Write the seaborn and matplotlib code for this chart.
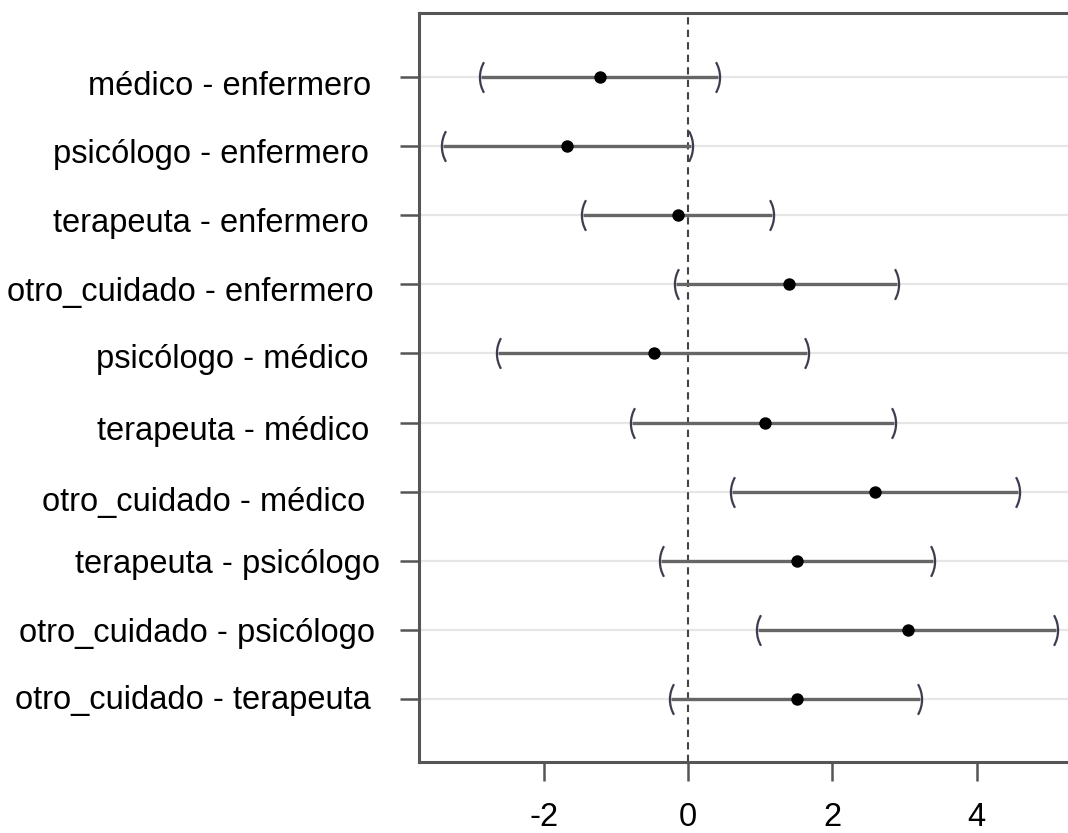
import matplotlib
matplotlib.use("Agg")
import matplotlib.pyplot as plt
from matplotlib.path import Path
from matplotlib.transforms import ScaledTranslation
import seaborn as sns
import pandas as pd

comparisons = [
    "médico - enfermero",
    "psicólogo - enfermero",
    "terapeuta - enfermero",
    "otro_cuidado - enfermero",
    "psicólogo - médico",
    "terapeuta - médico",
    "otro_cuidado - médico",
    "terapeuta - psicólogo",
    "otro_cuidado - psicólogo",
    "otro_cuidado - terapeuta",
]
diff = [-1.22, -1.67, -0.14, 1.40, -0.47, 1.06, 2.59, 1.51, 3.05, 1.51]
lwr = [-2.87, -3.40, -1.46, -0.16, -2.63, -0.77, 0.61, -0.38, 0.97, -0.23]
upr = [0.41, 0.04, 1.17, 2.90, 1.65, 2.86, 4.57, 3.40, 5.10, 3.22]
xticks = [-2, 0, 2, 4]

# per-label placement nudges (pixels) to mimic the reference's label layout
label_dx = [0.7, -2, -2, 2.7, -2.3, -1.7, -6, 9.3, 4, 0]
label_baseline = [18.3, 16.7, 16.3, 16.3, 14.3, 17.7, 19.3, 12.3, 11.7, 10]

df = pd.DataFrame({"comp": comparisons, "diff": diff, "lwr": lwr, "upr": upr})
df["pos"] = range(1, len(df) + 1)

sns.set_theme(style="white")
plt.rcParams["font.family"] = ["Liberation Sans", "DejaVu Sans"]


def paren_marker(left_side=True):
    arc = Path.arc(150, 210) if left_side else Path.arc(-30, 30)
    v = arc.vertices.copy()
    v[:, 0] -= v[:, 0].mean()
    return Path(v, arc.codes)


W, H = 1068, 833
fig = plt.figure(figsize=(W / 100, H / 100), dpi=100)
left, right, top, bottom = 419, 1068, 13, 762
ax = fig.add_axes([left / W, (H - bottom) / H, (right - left) / W, (bottom - top) / H])

spine_c = "#555555"
for p in df["pos"]:
    ax.axhline(p, color="#e6e6e6", lw=1.6, zorder=0)
ax.axvline(0, color="#444444", lw=1.5, ls=(0, (3.5, 2.5)), zorder=1)

ax.hlines(df["pos"], df["lwr"], df["upr"], color="#666666", lw=2.4, zorder=2)
ax.plot(df["lwr"], df["pos"], ls="none", marker=paren_marker(True), markersize=22,
        markerfacecolor="none", markeredgecolor="#3d3d50", markeredgewidth=1.6, zorder=3)
ax.plot(df["upr"], df["pos"], ls="none", marker=paren_marker(False), markersize=22,
        markerfacecolor="none", markeredgecolor="#3d3d50", markeredgewidth=1.6, zorder=3)
sns.scatterplot(data=df, x="diff", y="pos", ax=ax, color="black", s=80,
                edgecolor="black", linewidth=0, zorder=4)

ax.set_xlim((left - 688) / 72.2, (right - 688) / 72.2)
ax.set_ylim(10.91, 0.074)
ax.set_xticks(xticks)
ax.set_xticklabels([str(t) for t in xticks])
ax.set_yticks(df["pos"])
ax.set_yticklabels(df["comp"])
ax.set_xlabel("")
ax.set_ylabel("")

for s in ["left", "top", "bottom"]:
    ax.spines[s].set_color(spine_c)
    ax.spines[s].set_linewidth(2.2)
ax.spines["right"].set_visible(False)

ax.tick_params(axis="both", which="major", direction="out", length=14, width=1.8,
               color=spine_c, labelsize=23.5, labelcolor="black")
ax.tick_params(axis="y", pad=19.9, left=True)
ax.tick_params(axis="x", pad=15, bottom=True)

for lab, dx, dy in zip(ax.get_yticklabels(), label_dx, label_baseline):
    lab.set_verticalalignment("baseline")
    lab.set_transform(lab.get_transform()
                      + ScaledTranslation((dx - 1) / 100, -dy / 100, fig.dpi_scale_trans))

fig.savefig("out.png", dpi=100)
